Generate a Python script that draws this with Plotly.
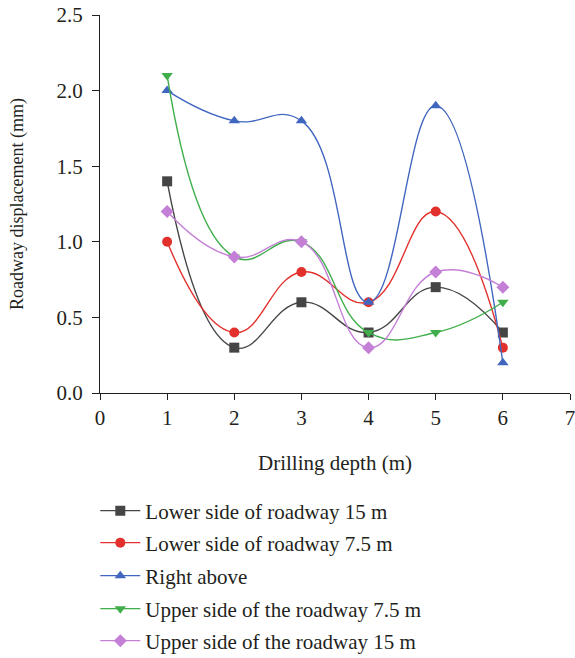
import plotly.graph_objects as go

depth = [1, 2, 3, 4, 5, 6]
lower_15 = [1.4, 0.3, 0.6, 0.4, 0.7, 0.4]
lower_75 = [1.0, 0.4, 0.8, 0.6, 1.2, 0.3]
right_above = [2.0, 1.8, 1.8, 0.6, 1.9, 0.2]
upper_75 = [2.1, 0.9, 1.0, 0.4, 0.4, 0.6]
upper_15 = [1.2, 0.9, 1.0, 0.3, 0.8, 0.7]

series = [
    ("Lower side of roadway 15 m", lower_15, "#454545", "square"),
    ("Lower side of roadway 7.5 m", lower_75, "#e2312d", "circle"),
    ("Right above", right_above, "#4166c0", "triangle-up"),
    ("Upper side of the roadway 7.5 m", upper_75, "#3fae4b", "triangle-down"),
    ("Upper side of the roadway 15 m", upper_15, "#c47fd6", "diamond"),
]

FONT = "Liberation Serif"
TXT = "#231f20"
H, T, B = 658, 15, 265
legend_centers = [511, 543, 576, 609, 641]

fig = go.Figure()
legend_layout = {}
for i, (name, ys, col, sym) in enumerate(series):
    key = "legend" if i == 0 else f"legend{i+1}"
    fig.add_trace(go.Scatter(
        x=depth, y=ys, name=name, mode="lines+markers",
        line=dict(color=col, width=1.4, shape="spline", smoothing=1.3),
        marker=dict(color=col, symbol=sym, size=10),
        legend=key,
    ))
    legend_layout[key] = dict(
        x=-0.01, y=1 - legend_centers[i] / H, yref="container",
        xanchor="left", yanchor="middle",
        font=dict(family=FONT, size=21, color=TXT),
        itemwidth=40, bgcolor="rgba(0,0,0,0)",
    )

fig.update_layout(
    width=575, height=H,
    margin=dict(l=100, r=5, t=T, b=B, autoexpand=False),
    paper_bgcolor="white", plot_bgcolor="white",
    font=dict(family=FONT, size=21, color=TXT),
    showlegend=True,
    **legend_layout,
)
fig.update_xaxes(
    range=[0, 7], tickvals=[0, 1, 2, 3, 4, 5, 6, 7],
    showline=True, linecolor=TXT, linewidth=1.2,
    ticks="outside", ticklen=6, tickcolor=TXT,
    showgrid=False, zeroline=False, automargin=False,
    ticklabeloverflow="allow",
    tickfont=dict(family=FONT, size=21),
    title=dict(text="Drilling depth (m)", font=dict(family=FONT, size=21), standoff=26),
)
fig.update_yaxes(
    range=[0, 2.5], tickvals=[0, 0.5, 1.0, 1.5, 2.0, 2.5], tickformat=".1f",
    showline=True, linecolor=TXT, linewidth=1.2,
    ticks="outside", ticklen=7, tickcolor=TXT,
    showgrid=False, zeroline=False, automargin=False,
    ticklabeloverflow="allow", ticklabelstandoff=5,
    tickfont=dict(family=FONT, size=21),
    title=dict(text="Roadway displacement (mm)", font=dict(family=FONT, size=18), standoff=28),
)
fig.write_html("out.html")
